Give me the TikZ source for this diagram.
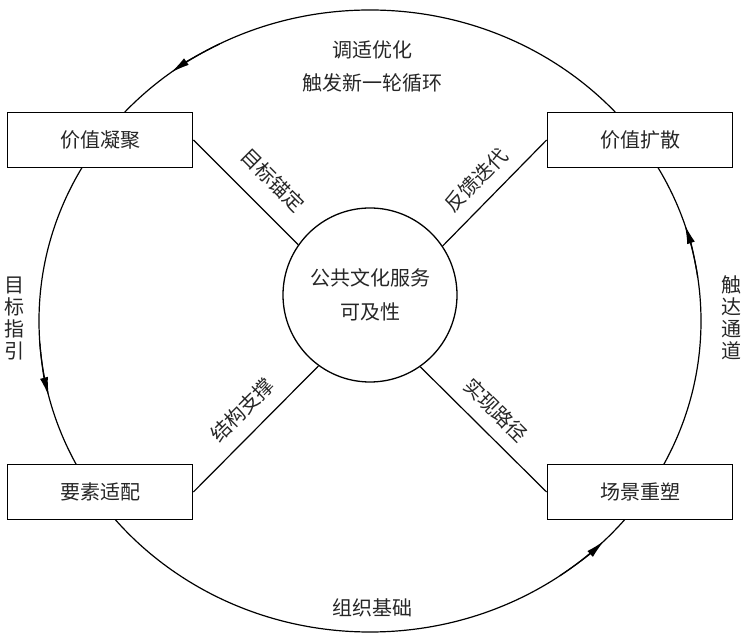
\documentclass[tikz,border=0pt]{standalone}
\usepackage{fontspec}
\setmainfont{Noto Sans CJK SC}
\usetikzlibrary{arrows.meta}
\begin{document}
\begin{tikzpicture}[x=1pt,y=1pt,
  every node/.style={text=black!85},
  txt/.style={font=\fontsize{20}{22}\selectfont, inner sep=0pt},
  stagebox/.style={draw=black, line width=1.8pt, fill=white, minimum width=185pt, minimum height=55pt, inner sep=0pt, font=\fontsize{20}{22}\selectfont},
  hub/.style={draw=black, line width=1.3pt, fill=white, circle, minimum size=174pt, inner sep=0pt, align=center, font=\fontsize{20}{34}\selectfont},
  link/.style={draw=black, line width=1.2pt},
  ring/.style={draw=black, line width=1.2pt},
  ringarrow/.style={draw=black, line width=1.2pt, -{Latex[length=19pt,width=8pt]}}
]
\useasboundingbox (0,0) rectangle (742,640);
\coordinate (o) at (370,319);
% outer cycle
\draw[ring] (o) ellipse [x radius=331, y radius=311];
\draw[ringarrow] (o) ++(117:331 and 311) arc[start angle=117, end angle=127, x radius=331, y radius=311];
\draw[ringarrow] (o) ++(184:331 and 311) arc[start angle=184, end angle=194, x radius=331, y radius=311];
\draw[ringarrow] (o) ++(305:331 and 311) arc[start angle=305, end angle=315, x radius=331, y radius=311];
\draw[ringarrow] (o) ++(8:331 and 311) arc[start angle=8, end angle=18, x radius=331, y radius=311];
% hub and stages
\node[hub] (c) at (370,345) {公共文化服务\\可及性};
\node[stagebox] (b1) at (100,500) {价值凝聚};
\node[stagebox] (b2) at (640,500) {价值扩散};
\node[stagebox] (b3) at (100,148) {要素适配};
\node[stagebox] (b4) at (640,148) {场景重塑};
% spokes
\draw[link] (b1.east) -- (c.145.5);
\draw[link] (b2.west) -- (c.34.5);
\draw[link] (b3.east) -- (c.234.1);
\draw[link] (b4.west) -- (c.305.9);
% spoke labels
\node[txt, rotate=-45] (l1) at (273,460) {目标锚定};
\node[txt, rotate=45] (l2) at (476,460) {反馈迭代};
\node[txt, rotate=45] (l3) at (242,230) {结构支撑};
\node[txt, rotate=-45] (l4) at (496,230) {实现路径};
% ring labels
\node[txt, align=center, font=\fontsize{20}{33}\selectfont] (t1) at (372,574) {调适优化\\触发新一轮循环};
\node[txt, align=center, font=\fontsize{20}{22}\selectfont] (t2) at (15,321) {目\\标\\指\\引};
\node[txt, align=center, font=\fontsize{20}{22}\selectfont] (t3) at (731,322) {触\\达\\通\\道};
\node[txt] (t4) at (372,32) {组织基础};
\end{tikzpicture}
\end{document}
